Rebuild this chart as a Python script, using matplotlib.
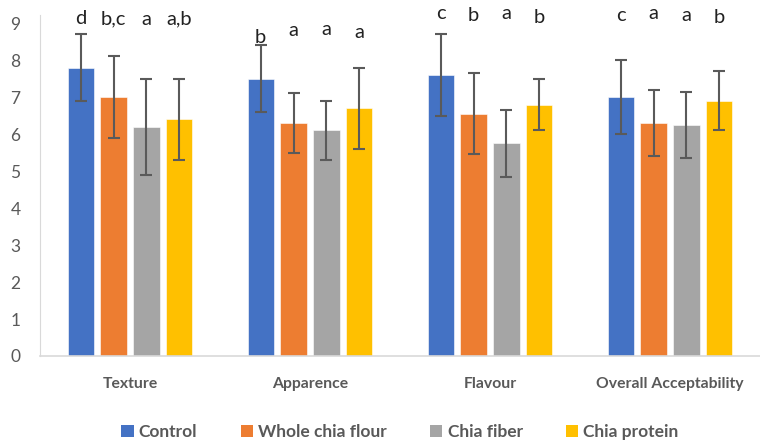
import numpy as np
import matplotlib
matplotlib.use("Agg")
import matplotlib.pyplot as plt
from matplotlib.patches import Patch

categories = ["Texture", "Apparence", "Flavour", "Overall Acceptability"]
series = ["Control", "Whole chia flour", "Chia fiber", "Chia protein"]
colors = ["#4472C4", "#ED7D31", "#A5A5A5", "#FFC000"]

means = [
    [7.8, 7.5, 7.6, 7.0],    # Control
    [7.0, 6.3, 6.55, 6.3],   # Whole chia flour
    [6.2, 6.1, 5.75, 6.25],  # Chia fiber
    [6.4, 6.7, 6.8, 6.9],    # Chia protein
]
errors = [
    [0.9, 0.9, 1.1, 1.0],
    [1.1, 0.8, 1.1, 0.9],
    [1.3, 0.8, 0.9, 0.9],
    [1.1, 1.1, 0.7, 0.8],
]
letters = [
    ["d", "b", "c", "c"],
    ["b,c", "a", "b", "a"],
    ["a", "a", "a", "a"],
    ["a,b", "a", "b", "b"],
]
letter_y = [
    [9.12, 8.62, 9.26, 9.2],
    [9.12, 8.8, 9.2, 9.26],
    [9.1, 8.82, 9.26, 9.2],
    [9.12, 8.75, 9.16, 9.16],
]

plt.rcParams["font.family"] = ["Lato", "DejaVu Sans"]

fig = plt.figure(figsize=(7.6, 4.43), dpi=100)
ax = fig.add_axes([40 / 760, 87 / 443, 720 / 760, 341 / 443])

x = np.arange(len(categories))
step = 0.183
width = 0.145
for i, name in enumerate(series):
    pos = x + (i - 1.5) * step
    ax.bar(pos, means[i], width, color=colors[i], edgecolor="white", linewidth=0.4, zorder=2)
    ax.errorbar(pos, means[i], yerr=errors[i], fmt="none", ecolor="#5a5a5a",
                elinewidth=1.5, capsize=4, capthick=1.5, zorder=3)
    for j in range(len(categories)):
        ax.text(pos[j], letter_y[i][j], letters[i][j], ha="center", va="center",
                fontsize=14.5, color="#222222")

ax.set_xlim(-0.5, len(categories) - 0.5)
ax.set_ylim(0, 9.22)
ax.set_yticks(range(0, 10))
ax.set_xticks(x)
ax.set_xticklabels(categories, fontweight="bold", fontsize=11.3, color="#595959")
ax.tick_params(axis="y", length=0, labelsize=12.5, labelcolor="#595959", pad=14)
ax.tick_params(axis="x", length=0, pad=15)
for s in ["top", "right"]:
    ax.spines[s].set_visible(False)
ax.spines["left"].set_color("#D9D9D9")
ax.spines["bottom"].set_color("#D9D9D9")
ax.spines["bottom"].set_linewidth(1.2)

handles = [Patch(facecolor=c) for c in colors]
fig.legend(handles, series, loc="center", bbox_to_anchor=(400 / 760, 11 / 443), ncol=4,
           frameon=False, prop={"weight": "bold", "size": 12.5}, labelcolor="#595959",
           handlelength=0.7, handleheight=0.7, handletextpad=0.3, columnspacing=2.5)

fig.savefig("out.png", dpi=100)
